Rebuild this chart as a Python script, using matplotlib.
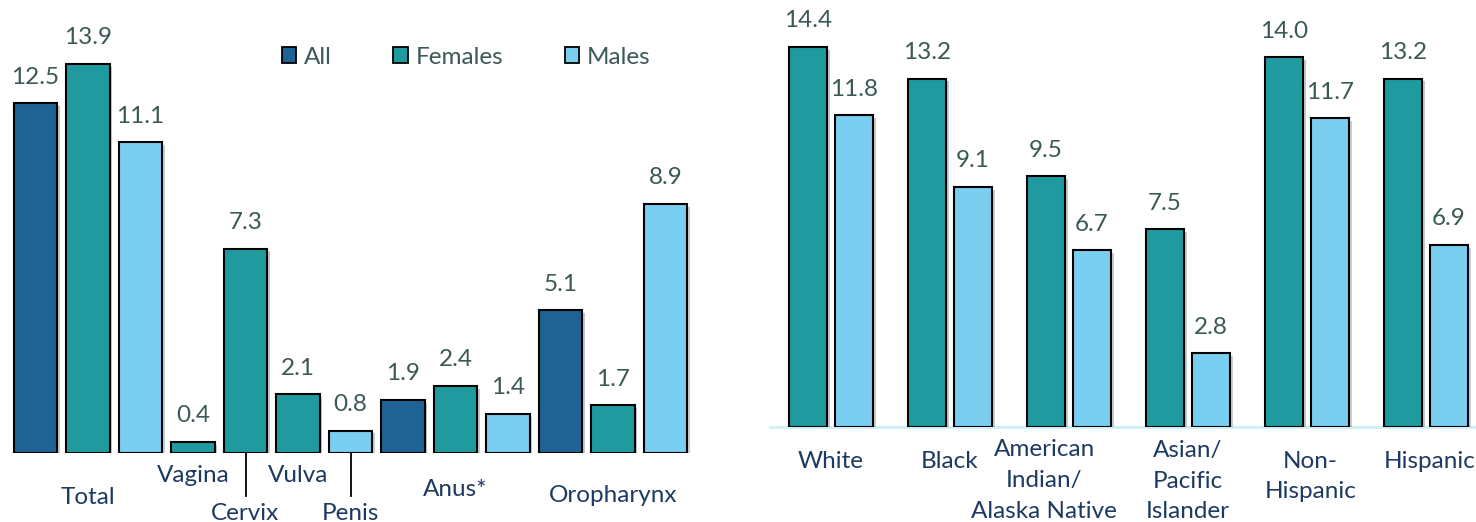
import matplotlib
matplotlib.use("Agg")
import matplotlib.pyplot as plt
import matplotlib.patheffects as pe
from matplotlib.patches import Patch
from matplotlib.lines import Line2D

plt.rcParams["font.family"] = ["Lato", "DejaVu Sans"]

# Left panel: cancer sites, one entry per bar
bar_sites = ["Total", "Total", "Total", "Vagina", "Cervix", "Vulva", "Penis",
             "Anus*", "Anus*", "Anus*", "Oropharynx", "Oropharynx", "Oropharynx"]
bar_series = ["All", "Females", "Males", "Females", "Females", "Females", "Males",
              "All", "Females", "Males", "All", "Females", "Males"]
bar_values = [12.5, 13.9, 11.1, 0.4, 7.3, 2.1, 0.8, 1.9, 2.4, 1.4, 5.1, 1.7, 8.9]
series_names = ["All", "Females", "Males"]

# Right panel: race / ethnicity groups
groups = ["White", "Black", "American\nIndian/\nAlaska Native",
          "Asian/\nPacific\nIslander", "Non-\nHispanic", "Hispanic"]
females = [14.4, 13.2, 9.5, 7.5, 14.0, 13.2]
males = [11.8, 9.1, 6.7, 2.8, 11.7, 6.9]

colors = {"All": "#1F6395", "Females": "#1F9BA0", "Males": "#7ACEF0"}
value_color = "#3A5957"
label_color = "#1C3A62"
shadow = [pe.SimplePatchShadow(offset=(2, -2), alpha=0.25), pe.Normal()]
fs = 17.5

W, H = 1476, 522
fig = plt.figure(figsize=(W / 100, H / 100), dpi=100)

# ---------------- left panel ----------------
ax1 = fig.add_axes([9.25 / W, 69 / H, 682.5 / W, 453 / H])
xs = list(range(len(bar_values)))
bars = ax1.bar(xs, bar_values, width=0.82,
               color=[colors[s] for s in bar_series],
               edgecolor="black", linewidth=1.5, zorder=3)
for b in bars:
    b.set_path_effects(shadow)
for x, v in zip(xs, bar_values):
    ax1.annotate(f"{v:.1f}", (x, v), xytext=(0, 26), textcoords="offset pixels",
                 ha="center", va="center", fontsize=fs, color=value_color)
ax1.set_xlim(-0.5, 12.5)
ax1.set_ylim(0, 453 / 28)
ax1.axis("off")

# site labels: centred under their bars, some dropped with a leader line
site_pos = {}
for x, s in zip(xs, bar_sites):
    site_pos.setdefault(s, []).append(x)
site_y = {"Total": 497, "Vagina": 475, "Cervix": 513, "Vulva": 475,
          "Penis": 513, "Anus*": 490, "Oropharynx": 495}
tr1 = ax1.get_xaxis_transform()
for s, pos in site_pos.items():
    cx = sum(pos) / len(pos)
    yf = (453 - site_y[s]) / 453
    ax1.text(cx, yf, s, transform=tr1, ha="center", va="center",
             fontsize=fs, color=label_color, clip_on=False)
    if site_y[s] > 505:
        ax1.add_line(Line2D([cx, cx], [0, (453 - 496) / 453], transform=tr1,
                            color="black", lw=1.3, clip_on=False))

handles = [Patch(facecolor=colors[n], edgecolor="black", linewidth=1.3)
           for n in series_names]
ax1.legend(handles, series_names, ncol=3, frameon=False, fontsize=fs,
           labelcolor=value_color, loc="center",
           bbox_to_anchor=((466 - 9.25) / 682.5, (453 - 57) / 453),
           handlelength=0.6, handleheight=0.6, handletextpad=0.3,
           columnspacing=2.55)

# ---------------- right panel ----------------
x0 = -0.513
ax2 = fig.add_axes([770 / W, 95 / H, 706 / W, 427 / H])
gx = list(range(len(groups)))
bf = ax2.bar([g - 0.193 for g in gx], females, width=0.32,
             color=colors["Females"], edgecolor="black", linewidth=1.5, zorder=3)
bm = ax2.bar([g + 0.193 for g in gx], males, width=0.32,
             color=colors["Males"], edgecolor="black", linewidth=1.5, zorder=3)
for b in list(bf) + list(bm):
    b.set_path_effects(shadow)
for bs, vals in ((bf, females), (bm, males)):
    for b, v in zip(bs, vals):
        ax2.annotate(f"{v:.1f}", (b.get_x() + b.get_width() / 2, v),
                     xytext=(0, 26), textcoords="offset pixels",
                     ha="center", va="center", fontsize=fs, color=value_color)
ax2.set_xlim(x0, x0 + 706 / 119)
ax2.set_ylim(0, 427 / 26.4)
for sp in ("left", "right", "top"):
    ax2.spines[sp].set_visible(False)
ax2.spines["bottom"].set_color("#CDEFF5")
ax2.spines["bottom"].set_linewidth(2)
ax2.set_xticks([])
ax2.set_yticks([])

# group labels, one text per wrapped line (31 px line pitch)
tr2 = ax2.get_xaxis_transform()
first_line = [461, 461, 450, 450, 461, 461]
label_dx = [0, 0, -0.21, 0, 0.03, 0.03]
for g, name, ty, dx in zip(gx, groups, first_line, label_dx):
    for i, line in enumerate(name.split("\n")):
        ax2.text(g + dx, (427 - ty - 31 * i) / 427, line, transform=tr2,
                 ha="center", va="center", fontsize=fs, color=label_color,
                 clip_on=False)

fig.savefig("out.png", dpi=100)
